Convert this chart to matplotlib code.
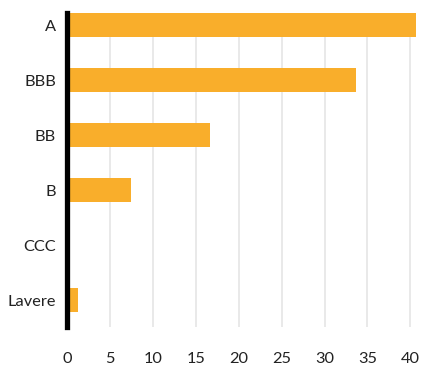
import matplotlib
matplotlib.use("Agg")
import matplotlib.pyplot as plt

categories = ["A", "BBB", "BB", "B", "CCC", "Lavere"]
values = [40.7, 33.7, 16.7, 7.5, 0.0, 1.3]
xticks = [0, 5, 10, 15, 20, 25, 30, 35, 40]

plt.rcParams['font.family'] = ['Lato', 'DejaVu Sans']

fig = plt.figure(figsize=(4.22, 3.67), dpi=100)
ax = fig.add_axes([67/422, 40/367, (419-67)/422, (327-13)/367])

pos = list(range(len(categories)))
ax.barh(pos, values, height=0.44, color="#F9AE2B", zorder=3)
ax.set_yticks(pos)
ax.set_yticklabels(categories)
ax.set_ylim(5.49, -0.22)
ax.set_xlim(0, 41)
ax.set_xticks(xticks)
ax.set_xticklabels([str(t) for t in xticks])

ax.grid(axis="x", color="#E3E3E3", linewidth=1.1, zorder=0)
ax.grid(axis="y", visible=False)
for s in ["top", "right", "bottom"]:
    ax.spines[s].set_visible(False)
ax.spines["left"].set_linewidth(3.8)
ax.spines["left"].set_color("black")
ax.spines["left"].set_zorder(5)
ax.tick_params(axis="both", length=0, labelsize=11.8, colors="#222222")
ax.tick_params(axis="x", pad=18)
ax.tick_params(axis="y", pad=8)

fig.savefig("out.png", dpi=100)
